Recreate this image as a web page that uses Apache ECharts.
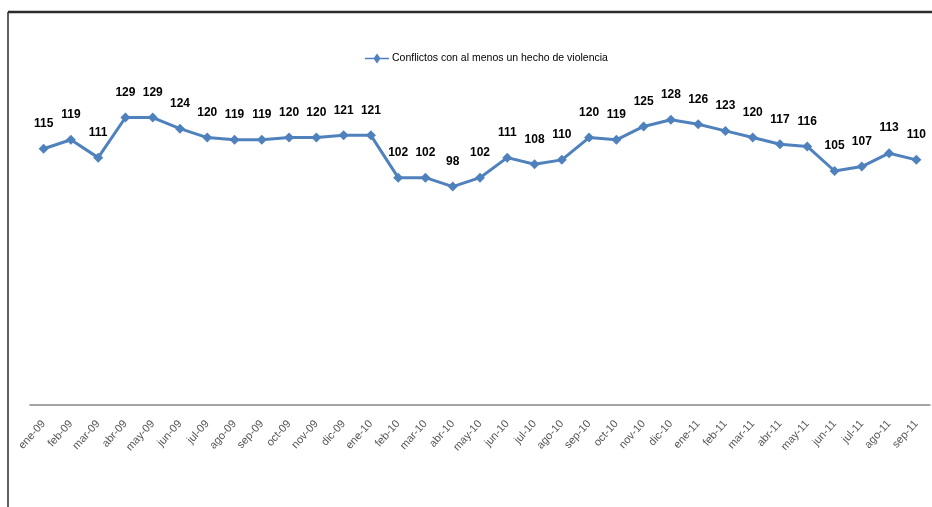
<!DOCTYPE html>
<html>
<head>
<meta charset="utf-8">
<script src="https://cdn.jsdelivr.net/npm/echarts@6/dist/echarts.min.js"></script>
<style>
html,body{margin:0;padding:0;background:#fff;}
#c{width:932px;height:507px;}
</style>
</head>
<body>
<div id="c"></div>
<script>
const categories = ["ene-09","feb-09","mar-09","abr-09","may-09","jun-09","jul-09","ago-09","sep-09","oct-09","nov-09","dic-09",
"ene-10","feb-10","mar-10","abr-10","may-10","jun-10","jul-10","ago-10","sep-10","oct-10","nov-10","dic-10",
"ene-11","feb-11","mar-11","abr-11","may-11","jun-11","jul-11","ago-11","sep-11"];
const seriesName = "Conflictos con al menos un hecho de violencia";
const values = [115,119,111,129,129,124,120,119,119,120,120,121,121,102,102,98,102,111,108,110,120,119,125,128,126,123,120,117,116,105,107,113,110];

const chart = echarts.init(document.getElementById('c'));
const fam = '"Liberation Sans Narrow", "Liberation Sans", sans-serif';
chart.setOption({
  animation: false,
  graphic: [
    {type:'line', shape:{x1:8,y1:12,x2:932,y2:12}, style:{stroke:'#2b2b2b', lineWidth:2.5}},
    {type:'line', shape:{x1:8,y1:12,x2:8,y2:507}, style:{stroke:'#2b2b2b', lineWidth:1.5}}
  ],
  legend: {
    data:[seriesName],
    top: 48, left: 360,
    itemWidth: 24, itemHeight: 10,
    icon: 'path://M0,4.2 L9,4.2 L12,0 L15,4.2 L24,4.2 L24,5.8 L15,5.8 L12,10 L9,5.8 L0,5.8 Z',
    itemGap: 2,
    textStyle:{fontFamily:fam, fontSize:10.5, color:'#000', padding:[0,0,0,-2]}
  },
  grid: {left:30, right:2, top:93, bottom:102},
  xAxis: {
    type:'category', data: categories, boundaryGap:true,
    axisLine:{lineStyle:{color:'#888', width:1.5}},
    axisTick:{show:false},
    axisLabel:{rotate:48, interval:0, color:'#555', fontFamily:fam, fontSize:11, margin:17}
  },
  yAxis: {
    type:'value', min:0, max:140, show:false,
    splitLine:{show:false}
  },
  series: [{
    name: seriesName, type:'line', data: values,
    symbol:'diamond', symbolSize:10,
    lineStyle:{color:'#4F81BD', width:3},
    itemStyle:{color:'#4F81BD'},
    label:{show:true, position:'top', distance:14, color:'#000', fontWeight:'bold', fontFamily:fam, fontSize:12}
  }]
});
</script>
</body>
</html>
